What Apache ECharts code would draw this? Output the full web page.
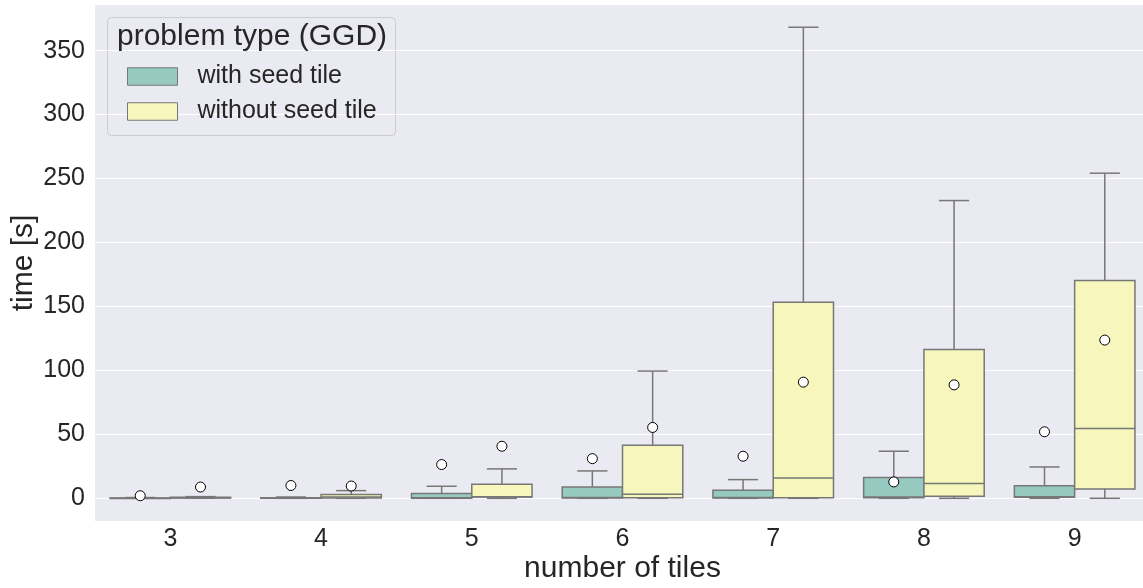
<!DOCTYPE html>
<html>
<head>
<meta charset="utf-8">
<script src="https://cdn.jsdelivr.net/npm/echarts@6/dist/echarts.min.js"></script>
<style>
html,body{margin:0;padding:0;background:#fff;}
#chart{width:1143px;height:588px;}
</style>
</head>
<body>
<div id="chart"></div>
<script>
// ---- data ----
const categories = ['3', '4', '5', '6', '7', '8', '9'];
const yTicks = [0, 50, 100, 150, 200, 250, 300, 350];

// with seed tile
const seedLow    = [0,   0,   0,   0,    0,    0,    0];
const seedQ1     = [0,   0,   0.1, 0.2,  0.2,  0.4,  0.8];
const seedMedian = [0.1, 0.2, 0.5, 0.6,  0.6,  1.0,  1.3];
const seedQ3     = [0.3, 0.5, 3.7, 8.9,  6.3,  16.2, 9.9];
const seedHigh   = [0.6, 1.0, 9.4, 21.4, 14.6, 36.8, 24.5];
const seedMean   = [2.0, 10.0, 26.4, 31.0, 32.9, 12.8, 52.0];

// without seed tile
const noSeedLow    = [0.2, 0,   0,    0,    0,     0,     0];
const noSeedQ1     = [0.3, 0.3, 1.0,  0.5,  0.5,   1.6,   7.3];
const noSeedMedian = [0.5, 1.0, 1.3,  3.1,  15.9,  11.5,  54.6];
const noSeedQ3     = [0.8, 3.0, 11.0, 41.5, 153.2, 116.4, 170.2];
const noSeedHigh   = [1.3, 6.0, 23.0, 99.5, 368.3, 232.8, 254.2];
const noSeedMean   = [8.8, 9.6, 40.7, 55.4, 90.8,  88.7,  123.7];

const seriesNames = ['with seed tile', 'without seed tile'];
const seriesColors = ['#96cac1', '#f6f6bd'];
const lineColor = '#777777';

function rows(low, q1, med, q3, high, mean) {
  return categories.map((c, i) => [i, low[i], q1[i], med[i], q3[i], high[i], mean[i]]);
}

function makeRender(side) {
  return function (params, api) {
    const idx = api.value(0);
    const cx0 = api.coord([idx, 0])[0];
    const bw = api.size([1, 0])[0];
    const boxW = 0.4 * bw;
    const cx = cx0 + side * 0.2 * bw;
    const yLow = api.coord([idx, api.value(1)])[1];
    const yQ1 = api.coord([idx, api.value(2)])[1];
    const yMed = api.coord([idx, api.value(3)])[1];
    const yQ3 = api.coord([idx, api.value(4)])[1];
    const yHigh = api.coord([idx, api.value(5)])[1];
    const yMean = api.coord([idx, api.value(6)])[1];
    const ls = { stroke: lineColor, lineWidth: 1.5 };
    const capW = boxW / 4;
    return {
      type: 'group',
      children: [
        { type: 'line', shape: { x1: cx, y1: yQ3, x2: cx, y2: yHigh }, style: ls },
        { type: 'line', shape: { x1: cx, y1: yQ1, x2: cx, y2: yLow }, style: ls },
        { type: 'line', shape: { x1: cx - capW, y1: yHigh, x2: cx + capW, y2: yHigh }, style: ls },
        { type: 'line', shape: { x1: cx - capW, y1: yLow, x2: cx + capW, y2: yLow }, style: ls },
        { type: 'rect', shape: { x: cx - boxW / 2, y: yQ3, width: boxW, height: Math.max(yQ1 - yQ3, 0.5) },
          style: { fill: api.visual('color'), stroke: lineColor, lineWidth: 1.5 } },
        { type: 'line', shape: { x1: cx - boxW / 2, y1: yMed, x2: cx + boxW / 2, y2: yMed }, style: ls },
        { type: 'circle', shape: { cx: cx, cy: yMean, r: 5 }, style: { fill: '#ffffff', stroke: '#000000', lineWidth: 1 }, z2: 10 }
      ]
    };
  };
}

const chart = echarts.init(document.getElementById('chart'), null, { renderer: 'canvas' });
const font = 'Liberation Sans, Arial, sans-serif';

chart.setOption({
  animation: false,
  backgroundColor: '#ffffff',
  textStyle: { fontFamily: font },
  grid: { left: 95, top: 5, width: 1055, height: 516, show: true, backgroundColor: '#eaeaf2', borderWidth: 0,
          outerBoundsMode: 'none', containLabel: false },
  xAxis: {
    type: 'category',
    data: categories,
    boundaryGap: true,
    name: 'number of tiles',
    nameLocation: 'middle',
    nameGap: 33,
    nameMoveOverlap: false,
    nameTextStyle: { fontSize: 30, color: '#262626', fontFamily: font },
    axisLine: { show: false },
    axisTick: { show: false },
    axisLabel: { fontSize: 25, color: '#262626', margin: 6, fontFamily: font },
    splitLine: { show: false }
  },
  yAxis: {
    type: 'value',
    min: -17.75,
    max: 385.7,
    name: 'time [s]',
    nameLocation: 'middle',
    nameGap: 56,
    nameMoveOverlap: false,
    nameTextStyle: { fontSize: 30, color: '#262626', fontFamily: font },
    axisLine: { show: false },
    axisTick: { show: false, customValues: yTicks },
    axisLabel: { fontSize: 25, color: '#262626', margin: 10, fontFamily: font, customValues: yTicks },
    splitLine: { show: true, lineStyle: { color: '#ffffff', width: 1.2 } }
  },
  legend: {
    orient: 'vertical',
    left: 127,
    top: 64,
    padding: 0,
    itemWidth: 50,
    itemHeight: 17.5,
    itemGap: 10,
    icon: 'rect',
    selectedMode: false,
    textStyle: { fontSize: 25, color: '#262626', fontFamily: font, padding: [0, 0, 0, 15] },
    data: seriesNames.map((n, i) => ({ name: n, itemStyle: { color: seriesColors[i], borderColor: lineColor, borderWidth: 1 } }))
  },
  graphic: [
    { type: 'rect', left: 107, top: 17, z: 0, shape: { width: 288, height: 118, r: 4 },
      style: { fill: 'rgba(234,234,242,0.8)', stroke: '#cccccc', lineWidth: 1 } },
    { type: 'text', left: 117, top: 22, z: 1,
      style: { text: 'problem type (GGD)', fontSize: 30, fill: '#262626', fontFamily: font } }
  ],
  series: [
    {
      name: seriesNames[0],
      type: 'custom',
      itemStyle: { color: seriesColors[0] },
      encode: { x: 0, y: [1, 2, 3, 4, 5, 6] },
      renderItem: makeRender(-1),
      data: rows(seedLow, seedQ1, seedMedian, seedQ3, seedHigh, seedMean),
      z: 2
    },
    {
      name: seriesNames[1],
      type: 'custom',
      itemStyle: { color: seriesColors[1] },
      encode: { x: 0, y: [1, 2, 3, 4, 5, 6] },
      renderItem: makeRender(1),
      data: rows(noSeedLow, noSeedQ1, noSeedMedian, noSeedQ3, noSeedHigh, noSeedMean),
      z: 2
    }
  ]
});
</script>
</body>
</html>
